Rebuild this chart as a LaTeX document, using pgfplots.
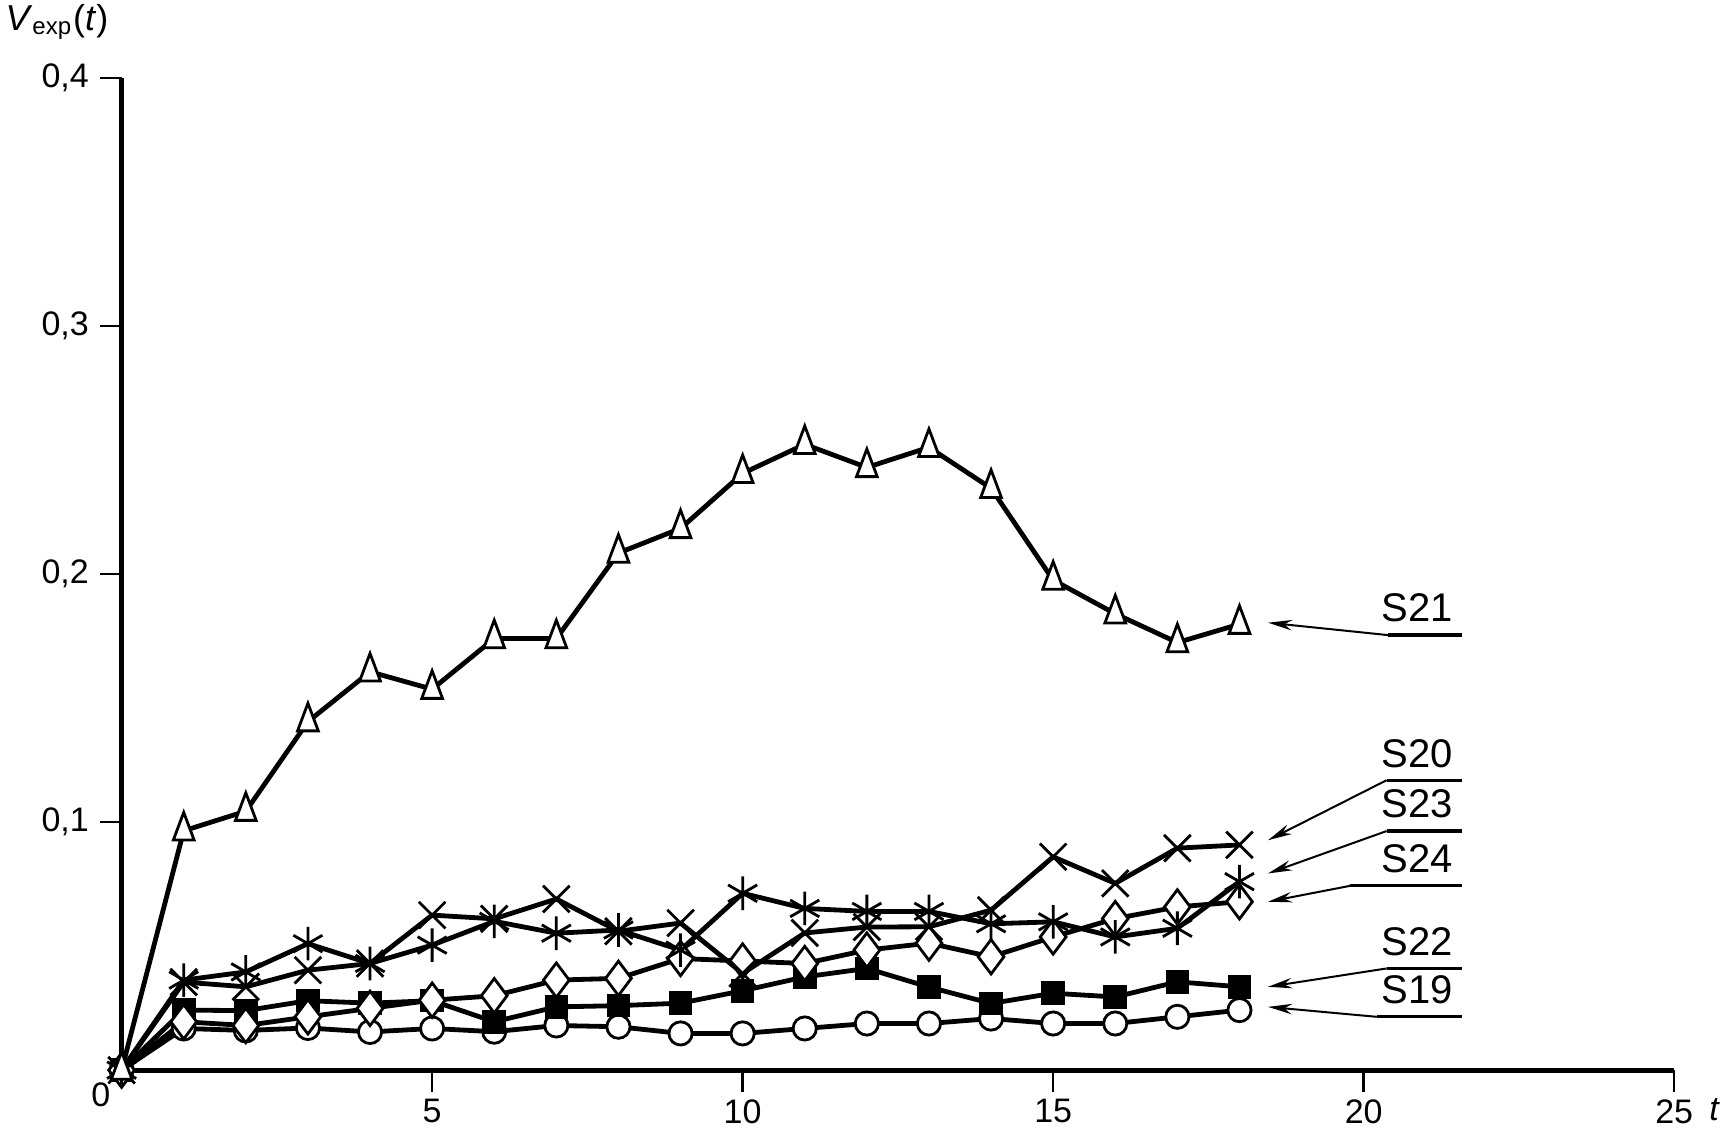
\documentclass[border=0pt]{standalone}
\usepackage{pgfplots}
\pgfplotsset{compat=1.18}
\usepackage{fontspec}
\setmainfont{Liberation Sans}
\usetikzlibrary{arrows.meta}
\begin{document}
\begin{tikzpicture}[x=1pt,y=1pt]
\begin{axis}[
  at={(0,0)}, anchor=south west,
  scale only axis, width=388.1pt, height=248pt,
  xmin=0, xmax=25, ymin=0, ymax=0.4,
  axis x line=bottom, axis y line=left,
  axis line style={line width=1.2pt, -},
  xtick={5,10,15,20,25}, xticklabels={5,10,15,20,25},
  ytick={0.1,0.2,0.3,0.4}, yticklabels={{0,1},{0,2},{0,3},{0,4}},
  tick align=outside, major tick length=5.5pt,
  tick style={line width=0.6pt, black},
  ticklabel style={font=\fontsize{8.5}{10}\selectfont, inner sep=0pt},
  xticklabel style={yshift=-1.6pt},
  yticklabel style={xshift=-2.5pt},
  clip=false,
  every axis plot/.append style={line width=1.2pt, black},
]
% S19 circles
\addplot[mark=*, mark size=2.9pt, mark options={fill=white, draw=black, line width=0.7pt}] coordinates {
(0,0) (1,0.0168) (2,0.016) (3,0.017) (4,0.0154) (5,0.0168) (6,0.0155) (7,0.018) (8,0.0175) (9,0.0148)
(10,0.0148) (11,0.0168) (12,0.0188) (13,0.0188) (14,0.0208) (15,0.0188) (16,0.0188) (17,0.0215) (18,0.0242)};
% S22 filled squares
\addplot[mark=square*, mark size=2.7pt, mark options={fill=black, draw=black, line width=0.5pt}] coordinates {
(0,0) (1,0.0242) (2,0.024) (3,0.028) (4,0.027) (5,0.028) (6,0.0195) (7,0.0255) (8,0.026) (9,0.027)
(10,0.032) (11,0.0376) (12,0.041) (13,0.0335) (14,0.0269) (15,0.031) (16,0.0295) (17,0.0356) (18,0.0336)};
% S24 diamonds
\addplot[mark=diamond*, mark size=4.3pt, mark options={fill=white, draw=black, line width=0.7pt}] coordinates {
(0,0) (1,0.0195) (2,0.018) (3,0.0215) (4,0.0249) (5,0.0282) (6,0.030) (7,0.0363) (8,0.037) (9,0.045)
(10,0.044) (11,0.043) (12,0.0484) (13,0.0512) (14,0.0457) (15,0.0537) (16,0.0611) (17,0.0658) (18,0.0679)};
% S23 asterisks
\addplot[mark=asterisk, mark size=4.2pt, mark options={line width=0.7pt}] coordinates {
(0,0) (1,0.0363) (2,0.0396) (3,0.051) (4,0.043) (5,0.0504) (6,0.060) (7,0.0552) (8,0.0565) (9,0.0484)
(10,0.0713) (11,0.0652) (12,0.064) (13,0.064) (14,0.059) (15,0.0598) (16,0.0537) (17,0.0572) (18,0.076)};
% S20 crosses
\addplot[mark=x, mark size=4.7pt, mark options={line width=0.7pt}] coordinates {
(0,0) (1,0.0355) (2,0.0336) (3,0.0403) (4,0.043) (5,0.0625) (6,0.061) (7,0.069) (8,0.056) (9,0.0593)
(10,0.039) (11,0.0553) (12,0.0577) (13,0.0578) (14,0.0645) (15,0.086) (16,0.0753) (17,0.0895) (18,0.0908)};
% S21 triangles
\addplot[mark=triangle*, mark size=4.6pt, mark options={fill=white, draw=black, line width=0.7pt, xscale=0.65}] coordinates {
(0,0) (1,0.0965) (2,0.1044) (3,0.1405) (4,0.1606) (5,0.1536) (6,0.174) (7,0.174) (8,0.2085) (9,0.2184)
(10,0.2406) (11,0.2523) (12,0.243) (13,0.2511) (14,0.2346) (15,0.1976) (16,0.184) (17,0.1724) (18,0.1798)};

% annotations
\tikzset{arr/.style={line width=0.5pt, -{Stealth[length=6pt,width=2.6pt]}}, ul/.style={line width=0.8pt}, lab/.style={anchor=south east, inner sep=0pt, yshift=3pt, font=\fontsize{10}{12}\selectfont}}
\draw[arr] (axis cs:20.39,0.1754) -- (axis cs:18.46,0.1804);
\draw[ul] (axis cs:20.39,0.1754) -- (axis cs:21.58,0.1754);
\node[lab] at (axis cs:21.45,0.1754) {S21};
\draw[arr] (axis cs:20.37,0.1169) -- (axis cs:18.46,0.0927);
\draw[ul] (axis cs:20.37,0.1169) -- (axis cs:21.58,0.1169);
\node[lab] at (axis cs:21.45,0.1169) {S20};
\draw[arr] (axis cs:20.37,0.0964) -- (axis cs:18.46,0.0793);
\draw[ul] (axis cs:20.37,0.0964) -- (axis cs:21.58,0.0964);
\node[lab] at (axis cs:21.45,0.0964) {S23};
\draw[arr] (axis cs:19.78,0.0743) -- (axis cs:18.46,0.0679);
\draw[ul] (axis cs:19.78,0.0743) -- (axis cs:21.58,0.0743);
\node[lab] at (axis cs:21.45,0.0743) {S24};
\draw[arr] (axis cs:20.37,0.0410) -- (axis cs:18.46,0.0336);
\draw[ul] (axis cs:20.37,0.0410) -- (axis cs:21.58,0.0410);
\node[lab] at (axis cs:21.45,0.0410) {S22};
\draw[arr] (axis cs:20.21,0.0215) -- (axis cs:18.46,0.0255);
\draw[ul] (axis cs:20.21,0.0215) -- (axis cs:21.58,0.0215);
\node[lab] at (axis cs:21.45,0.0215) {S19};

\node[font=\fontsize{8.5}{10}\selectfont, inner sep=0pt] at ([xshift=-5.2pt,yshift=-6.25pt]axis cs:0,0) {0};
\node[font=\fontsize{8.5}{10}\selectfont\itshape, inner sep=0pt] at ([xshift=10pt,yshift=-10pt]axis cs:25,0) {t};
\end{axis}
\node[anchor=base west, inner sep=0pt, font=\fontsize{9}{11}\selectfont] at (-29.2pt,260pt) {\textit{V}\textsubscript{exp}(\textit{t})};
\pgfresetboundingbox
\path[use as bounding box] (-30.4pt,-14.75pt) rectangle (400.8pt,267.5pt);
\end{tikzpicture}
\end{document}
